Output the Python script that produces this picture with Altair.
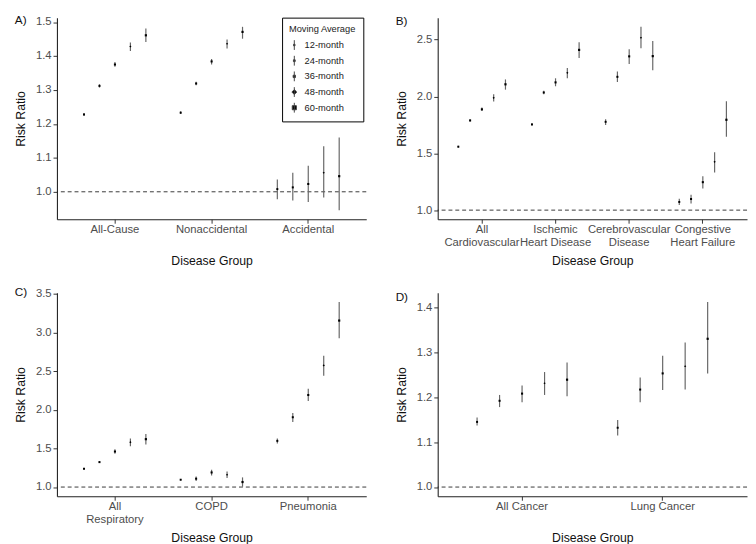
import altair as alt
import pandas as pd

FONT = "Liberation Sans"
MA = ["12-month", "24-month", "36-month", "48-month", "60-month"]
SHAPES = ["square", "square", "square", "diamond", "square"]
SIZES = [4, 5, 8, 32, 24]

# Panel A: mortality
A_GROUPS = ["All-Cause", "Nonaccidental", "Accidental"]
A_RR = [[1.228, 1.312, 1.375, 1.428, 1.461],
        [1.233, 1.319, 1.384, 1.436, 1.471],
        [1.008, 1.013, 1.023, 1.056, 1.046]]
A_LO = [[1.224, 1.307, 1.368, 1.415, 1.441],
        [1.229, 1.314, 1.375, 1.422, 1.451],
        [0.978, 0.974, 0.970, 0.983, 0.946]]
A_HI = [[1.232, 1.317, 1.382, 1.440, 1.481],
        [1.237, 1.324, 1.391, 1.449, 1.486],
        [1.036, 1.056, 1.077, 1.134, 1.160]]

# Panel B: cardiovascular
B_GROUPS = ["All|Cardiovascular", "Ischemic|Heart Disease",
            "Cerebrovascular|Disease", "Congestive|Heart Failure"]
B_RR = [[1.558, 1.789, 1.887, 1.988, 2.107],
        [1.754, 2.035, 2.124, 2.208, 2.410],
        [1.777, 2.173, 2.353, 2.517, 2.355],
        [1.072, 1.098, 1.246, 1.425, 1.795]]
B_LO = [[1.550, 1.779, 1.872, 1.956, 2.060],
        [1.744, 2.020, 2.090, 2.160, 2.338],
        [1.750, 2.127, 2.286, 2.425, 2.231],
        [1.046, 1.058, 1.190, 1.332, 1.645]]
B_HI = [[1.566, 1.799, 1.902, 2.020, 2.150],
        [1.764, 2.050, 2.160, 2.250, 2.477],
        [1.800, 2.220, 2.416, 2.613, 2.488],
        [1.100, 1.136, 1.298, 1.509, 1.957]]

# Panel C: respiratory
C_GROUPS = ["All|Respiratory", "COPD", "Pneumonia"]
C_RR = [[1.237, 1.323, 1.460, 1.581, 1.620],
        [1.095, 1.108, 1.189, 1.159, 1.065],
        [1.598, 1.904, 2.192, 2.575, 3.156]]
C_LO = [[1.228, 1.312, 1.430, 1.529, 1.551],
        [1.085, 1.077, 1.151, 1.116, 1.004],
        [1.564, 1.843, 2.114, 2.441, 2.928]]
C_HI = [[1.246, 1.334, 1.490, 1.628, 1.688],
        [1.105, 1.138, 1.224, 1.202, 1.125],
        [1.628, 1.960, 2.274, 2.700, 3.397]]

# Panel D: cancer
D_GROUPS = ["All Cancer", "Lung Cancer"]
D_RR = [[1.145, 1.192, 1.208, 1.231, 1.239],
        [1.132, 1.217, 1.253, 1.269, 1.330]]
D_LO = [[1.137, 1.178, 1.189, 1.205, 1.202],
        [1.115, 1.189, 1.216, 1.217, 1.253]]
D_HI = [[1.155, 1.205, 1.226, 1.256, 1.277],
        [1.149, 1.244, 1.292, 1.322, 1.412]]

A_TICKS = [1.0, 1.1, 1.2, 1.3, 1.4, 1.5]
B_TICKS = [1.0, 1.5, 2.0, 2.5]
C_TICKS = [1.0, 1.5, 2.0, 2.5, 3.0, 3.5]
D_TICKS = [1.0, 1.1, 1.2, 1.3, 1.4]

# legend glyphs: vertical error bar with a point of growing size
LEGEND_PATHS = [
    "M0,-1V1M-0.15,-0.15H0.15V0.15H-0.15Z",
    "M0,-1V1M-0.18,-0.18H0.18V0.18H-0.18Z",
    "M0,-1V1M-0.24,-0.24H0.24V0.24H-0.24Z",
    "M0,-1V1M-0.5,0L0,-0.5L0.5,0L0,0.5Z",
    "M0,-1V1M-0.42,-0.42H0.42V0.42H-0.42Z",
]

W = 316


def panel(letter, groups, rr, lo, hi, ticks, xtitle_pad, height, legend=False):
    rows = []
    for g, r, l, h in zip(groups, rr, lo, hi):
        for m, a, b, c in zip(MA, r, l, h):
            rows.append({"group": g, "ma": m, "rr": a, "lo": b, "hi": c})
    df = pd.DataFrame(rows)
    vmin = min(df["lo"].min(), 1.0)
    vmax = max(df["hi"].max(), 1.0)
    pad = 0.05 * (vmax - vmin)
    yscale = alt.Scale(domain=[vmin - pad, vmax + pad], nice=False, zero=False)
    yaxis = alt.Axis(title="Risk Ratio", values=ticks, format=".1f", grid=False,
                     tickSize=4, labelPadding=2, titlePadding=8)
    xaxis = alt.Axis(title="Disease Group", labelAngle=0, grid=False, tickSize=4,
                     labelPadding=1, labelExpr="split(datum.label, '|')",
                     labelLineHeight=13, titlePadding=xtitle_pad)
    x = alt.X("group:N", sort=groups, scale=alt.Scale(paddingInner=0, paddingOuter=0.1),
              axis=xaxis)
    xo = alt.XOffset("ma:N", sort=MA,
                     scale=alt.Scale(domain=MA, paddingInner=0, paddingOuter=0.625))

    base = alt.Chart(df)
    bars = base.mark_rule(color="#666", strokeWidth=1.2).encode(
        x=x, xOffset=xo,
        y=alt.Y("lo:Q", scale=yscale, axis=yaxis),
        y2="hi:Q",
    )
    pts = base.mark_point(filled=True, color="black", opacity=1).encode(
        x=x, xOffset=xo,
        y=alt.Y("rr:Q", scale=yscale, axis=yaxis),
        shape=alt.Shape("ma:N", sort=MA, scale=alt.Scale(domain=MA, range=SHAPES),
                        legend=None),
        size=alt.Size("ma:N", sort=MA, scale=alt.Scale(domain=MA, range=SIZES),
                      legend=None),
    )
    ref = alt.Chart(pd.DataFrame({"v": [1.0]})).mark_rule(
        strokeDash=[4, 3], color="#222", strokeWidth=0.9
    ).encode(y=alt.Y("v:Q", scale=yscale, axis=yaxis))

    layers = [ref, bars, pts]
    if legend:
        leg = alt.Legend(
            title="Moving Average", orient="none", legendX=230, legendY=0,
            strokeColor="black", fillColor="white", padding=7, cornerRadius=0,
            titleFontSize=9.5, titleFontWeight="normal", titleFont=FONT, titleColor="#222",
            labelFontSize=9.5, labelFont=FONT, labelColor="#222", labelOffset=5,
            rowPadding=1, titlePadding=6, symbolSize=100, symbolOpacity=1,
            symbolStrokeWidth=1,
        )
        legend_layer = base.transform_filter("datum.rr < 0").mark_point(
            filled=True, color="black", stroke="#444", strokeWidth=1, size=100, opacity=1
        ).encode(
            x=x, xOffset=xo,
            y=alt.Y("rr:Q", scale=yscale, axis=yaxis),
            shape=alt.Shape("ma:N", sort=MA,
                            scale=alt.Scale(domain=MA, range=LEGEND_PATHS),
                            legend=leg),
        )
        layers.append(legend_layer)

    out = alt.layer(*layers).properties(
        width=W, height=height,
        title=alt.TitleParams(letter, anchor="start", frame="bounds", fontSize=12,
                              fontWeight="normal", font=FONT, color="#111", offset=-11),
    )
    if legend:
        out = out.resolve_scale(shape="independent").resolve_legend(shape="independent")
    return out


pa = panel("A)", A_GROUPS, A_RR, A_LO, A_HI, A_TICKS, 19.5, 206, legend=True)
pb = panel("B)", B_GROUPS, B_RR, B_LO, B_HI, B_TICKS, 6.5, 206)
pc = panel("C)", C_GROUPS, C_RR, C_LO, C_HI, C_TICKS, 6.5, 208)
pd_ = panel("D)", D_GROUPS, D_RR, D_LO, D_HI, D_TICKS, 19.5, 208)


def indep(c):
    return c.resolve_scale(shape="independent", size="independent",
                           xOffset="independent").resolve_legend(
        shape="independent", size="independent")


row1 = indep(alt.hconcat(pa, pb, spacing=29))
row2 = indep(alt.hconcat(pc, pd_, spacing=29))

chart = indep(alt.vconcat(row1, row2, spacing=19)).properties(
    padding={"left": 7, "top": 0, "right": 0, "bottom": 0}
).configure_view(stroke=None).configure_axis(
    labelFont=FONT, titleFont=FONT, labelFontSize=11.5, titleFontSize=12.5,
    titleFontWeight="normal", labelColor="#4d4d4d", titleColor="#111",
    domainColor="#222", domainWidth=1.1, tickColor="#333", tickWidth=1,
)

chart.save("out.html", embed_options={"renderer": "svg", "actions": False})
